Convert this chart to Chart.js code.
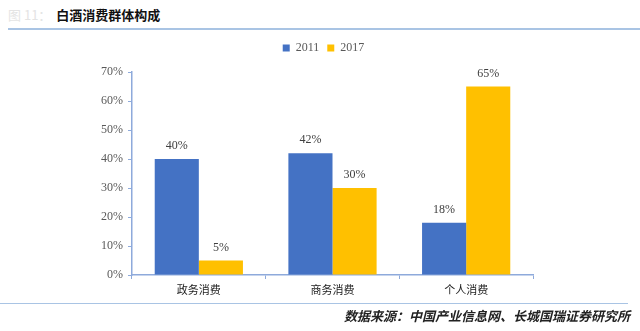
<!DOCTYPE html>
<html>
<head>
<meta charset="utf-8">
<script src="https://cdn.jsdelivr.net/npm/chart.js@4/dist/chart.umd.min.js"></script>
<style>
  html, body { margin: 0; padding: 0; background: #fff; }
  #wrap { position: relative; width: 640px; height: 331px; overflow: hidden; }
  #c { position: absolute; left: 0; top: 0; }
  .title { position: absolute; left: 8px; top: 5px; font: 13px "Noto Sans CJK SC", sans-serif; color: #111; white-space: nowrap; }
  .title .num { color: #e4e4e4; margin-right: 5px; }
  .title .main { font-weight: bold; }
  .rule-top { position: absolute; left: 8px; right: 0; top: 28px; height: 2px; background: #a9c4e4; }
  .rule-bot { position: absolute; left: 0; width: 628px; top: 303px; height: 1px; background: #a9c4e4; }
  .source { position: absolute; right: 10px; top: 306px; font: italic bold 13px "Noto Sans CJK SC", sans-serif; color: #222; white-space: nowrap; }
</style>
</head>
<body>
<div id="wrap">
  <div class="title"><span class="num">图 11：</span><span class="main">白酒消费群体构成</span></div>
  <div class="rule-top"></div>
  <canvas id="c" width="640" height="331"></canvas>
  <div class="rule-bot"></div>
  <div class="source">数据来源：中国产业信息网、长城国瑞证券研究所</div>
</div>
<script>
// Consumer groups for baijiu, share of consumption (%)
const categories = ['政务消费', '商务消费', '个人消费'];
const seriesNames = ['2011', '2017'];
const values2011 = [40, 42, 18];
const values2017 = [5, 30, 65];
const yTicks = [0, 10, 20, 30, 40, 50, 60, 70];

const axisColor = '#8eaadb';
const serif = '"Liberation Serif", "Times New Roman", serif';

// Writes the percentage above each bar
const valueLabels = {
  id: 'valueLabels',
  afterDatasetsDraw(chart) {
    const ctx = chart.ctx;
    ctx.save();
    ctx.font = '12px ' + serif;
    ctx.fillStyle = '#404040';
    ctx.textAlign = 'center';
    ctx.textBaseline = 'bottom';
    chart.data.datasets.forEach((ds, i) => {
      chart.getDatasetMeta(i).data.forEach((bar, j) => {
        ctx.fillText(ds.data[j] + '%', bar.x, bar.y - 7);
      });
    });
    ctx.restore();
  }
};

// Extra space under the legend, and legend centred over the plot area
const legendPlacement = {
  id: 'legendPlacement',
  afterInit(chart) {
    const legend = chart.legend;
    if (!legend) return;
    const fit = legend.fit;
    legend.fit = function () { fit.call(this); this.height += 8; };
  },
  afterLayout(chart) {
    const legend = chart.legend;
    if (!legend) return;
    legend.left += 16;
    legend.right += 16;
  }
};

new Chart(document.getElementById('c'), {
  type: 'bar',
  data: {
    labels: categories,
    datasets: [
      { label: seriesNames[0], data: values2011, backgroundColor: '#4472c4' },
      { label: seriesNames[1], data: values2017, backgroundColor: '#ffc000' }
    ]
  },
  options: {
    responsive: false,
    animation: false,
    layout: { padding: { left: 82, right: 107, top: 34, bottom: 31 } },
    datasets: { bar: { categoryPercentage: 0.66, barPercentage: 1 } },
    plugins: {
      legend: {
        position: 'top',
        labels: {
          boxWidth: 7, boxHeight: 7, padding: 8,
          color: '#595959',
          font: { family: serif, size: 12 }
        }
      },
      tooltip: { enabled: false }
    },
    scales: {
      x: {
        afterFit(s) { s.height = 25; },
        border: { color: axisColor, width: 1.5 },
        grid: { display: true, drawOnChartArea: false, drawTicks: true, tickLength: 4, color: axisColor, offset: true },
        ticks: { color: '#222', font: { family: '"Noto Sans CJK SC", sans-serif', size: 11 }, padding: 4 }
      },
      y: {
        min: 0, max: 70,
        afterFit(s) { s.width = 50; },
        afterBuildTicks(s) { s.ticks = yTicks.map(v => ({ value: v })); },
        border: { color: axisColor, width: 1.5 },
        grid: { display: true, drawOnChartArea: false, drawTicks: true, tickLength: 4, color: axisColor },
        ticks: {
          color: '#595959',
          font: { family: serif, size: 12 },
          padding: 5,
          callback: v => v + '%'
        }
      }
    }
  },
  plugins: [valueLabels, legendPlacement]
});
</script>
</body>
</html>
